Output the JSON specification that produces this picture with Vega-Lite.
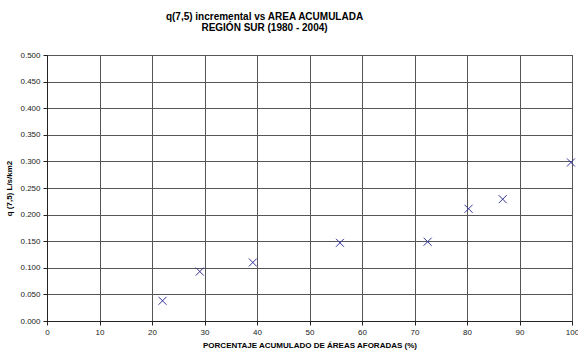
{
  "$schema": "https://vega.github.io/schema/vega-lite/v6.json",
  "width": 525,
  "height": 266,
  "autosize": {"type": "none"},
  "padding": {"left": 47, "top": 55, "right": 6, "bottom": 33},
  "background": "white",
  "title": {
    "text": ["q(7,5) incremental vs AREA ACUMULADA", "REGIÓN SUR (1980 - 2004)"],
    "font": "Liberation Sans",
    "fontSize": 10,
    "fontWeight": "bold",
    "color": "black",
    "anchor": "middle",
    "dx": -45,
    "offset": 18,
    "lineHeight": 11
  },
  "config": {
    "view": {"stroke": "#444", "strokeWidth": 1},
    "axis": {
      "labelFont": "Liberation Sans",
      "labelFontSize": 8,
      "labelColor": "#222",
      "titleFont": "Liberation Sans",
      "titleFontSize": 8,
      "titleFontWeight": "bold",
      "titleColor": "black",
      "gridColor": "#555",
      "gridOpacity": 1,
      "gridWidth": 1,
      "domainColor": "#222",
      "tickColor": "#222",
      "tickSize": 4
    }
  },
  "data": {
    "values": [
      {"pct": 22.0, "q": 0.038},
      {"pct": 29.1, "q": 0.093},
      {"pct": 39.2, "q": 0.110},
      {"pct": 55.8, "q": 0.147},
      {"pct": 72.5, "q": 0.149},
      {"pct": 80.3, "q": 0.211},
      {"pct": 86.8, "q": 0.229},
      {"pct": 99.8, "q": 0.298}
    ]
  },
  "mark": {
    "type": "point",
    "shape": "M-1,-1L1,1M-1,1L1,-1",
    "filled": false,
    "size": 64,
    "stroke": "#33339a",
    "strokeWidth": 1,
    "opacity": 1
  },
  "encoding": {
    "x": {
      "field": "pct",
      "type": "quantitative",
      "scale": {"domain": [0, 100], "nice": false, "zero": true},
      "axis": {
        "values": [0, 10, 20, 30, 40, 50, 60, 70, 80, 90, 100],
        "title": "PORCENTAJE ACUMULADO DE ÁREAS AFORADAS (%)",
        "titlePadding": 5,
        "labelPadding": 3,
        "labelFlush": false
      }
    },
    "y": {
      "field": "q",
      "type": "quantitative",
      "scale": {"domain": [0, 0.5], "nice": false},
      "axis": {
        "values": [0, 0.05, 0.1, 0.15, 0.2, 0.25, 0.3, 0.35, 0.4, 0.45, 0.5],
        "format": ".3f",
        "title": "q (7,5) L/s/km2",
        "titlePadding": 6,
        "labelPadding": 3,
        "labelFlush": false
      }
    }
  }
}
